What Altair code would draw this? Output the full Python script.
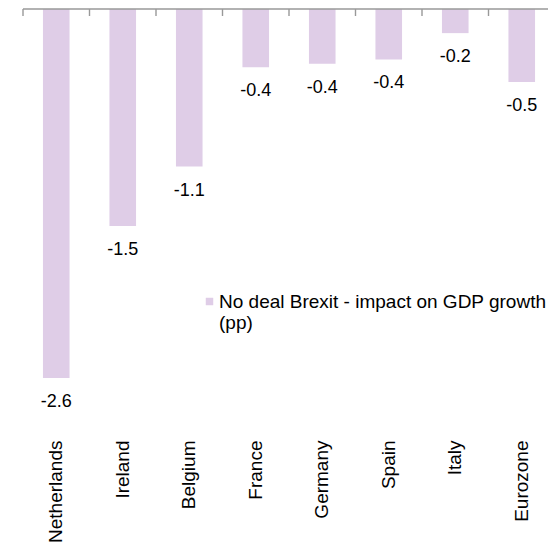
import altair as alt
import pandas as pd

countries = ["Netherlands", "Ireland", "Belgium", "France", "Germany", "Spain", "Italy", "Eurozone"]
impact = [-2.6, -1.53, -1.11, -0.41, -0.385, -0.355, -0.17, -0.515]
series_name = "No deal Brexit - impact on GDP growth (pp)"
legend_lines = ["No deal Brexit - impact on GDP growth", "(pp)"]

df = pd.DataFrame({
    "country": countries,
    "impact": impact,
    "label": [f"{v:.1f}" for v in impact],
    "series": series_name,
})
bounds_df = pd.DataFrame({"b": list(range(len(countries) + 1))})
line_df = pd.DataFrame({"a": [0], "b": [len(countries)]})

FONT = "Liberation Sans"
BAR = "#DFCDE7"
GRAY = "#999999"
W, H = 525, 426      # visible plot size
XR = 532             # full x range (extends past the visible edge, as in the reference)
PAD = {"left": 15, "top": 1, "right": 0, "bottom": 109}
YMIN = -3.002
TICK_LEN = 7 * (-YMIN) / H   # tick length in px, expressed in data units

xscale = alt.Scale(paddingInner=0.6, paddingOuter=0.3, range=[0, XR])
yscale = alt.Scale(domain=[YMIN, 0], nice=False, zero=False)
bscale = alt.Scale(domain=[0, len(countries)], nice=False, zero=False, range=[0, XR])

base = alt.Chart(df)

legend_expr = "[" + ", ".join(f"'{s}'" for s in legend_lines) + "]"

bars = base.mark_bar(color=BAR).encode(
    x=alt.X("country:N", sort=countries, scale=xscale, title=None,
            axis=alt.Axis(orient="bottom", labelAngle=-90, domain=False, ticks=False,
                          labelPadding=5, labelFont=FONT, labelFontSize=19,
                          labelColor="#000000", labelLimit=300)),
    y=alt.Y("impact:Q", scale=yscale, axis=None),
    color=alt.Color("series:N", scale=alt.Scale(range=[BAR]),
                    legend=alt.Legend(orient="none", legendX=169, legendY=283, title=None,
                                      labelFont=FONT, labelFontSize=19, labelColor="#000000",
                                      labelLimit=0, symbolType="square", symbolSize=56,
                                      symbolStrokeWidth=0, symbolOffset=8, padding=0,
                                      labelExpr=legend_expr,
                                      labelBaseline="middle", labelOffset=0)),
)

labels = base.mark_text(font=FONT, fontSize=18, color="#000000", baseline="middle", dy=24).encode(
    x=alt.X("country:N", sort=countries, scale=xscale, axis=None),
    y=alt.Y("impact:Q", scale=yscale, axis=None),
    text="label:N",
)

ticks = alt.Chart(bounds_df).mark_rule(color=GRAY, strokeWidth=1.4).encode(
    x=alt.X("b:Q", scale=bscale, axis=None),
    y=alt.datum(0),
    y2=alt.datum(-TICK_LEN),
)

domain_line = alt.Chart(line_df).mark_rule(color=GRAY, strokeWidth=1.3).encode(
    x=alt.X("a:Q", scale=bscale, axis=None),
    x2="b:Q",
    y=alt.datum(0),
)

chart = alt.layer(bars, labels, domain_line, ticks).resolve_scale(x="independent").properties(
    width=W, height=H, padding=PAD,
    autosize=alt.AutoSizeParams(type="none"),
).configure_view(stroke=None)

chart.save("out.html", embed_options={"renderer": "svg", "actions": False})
